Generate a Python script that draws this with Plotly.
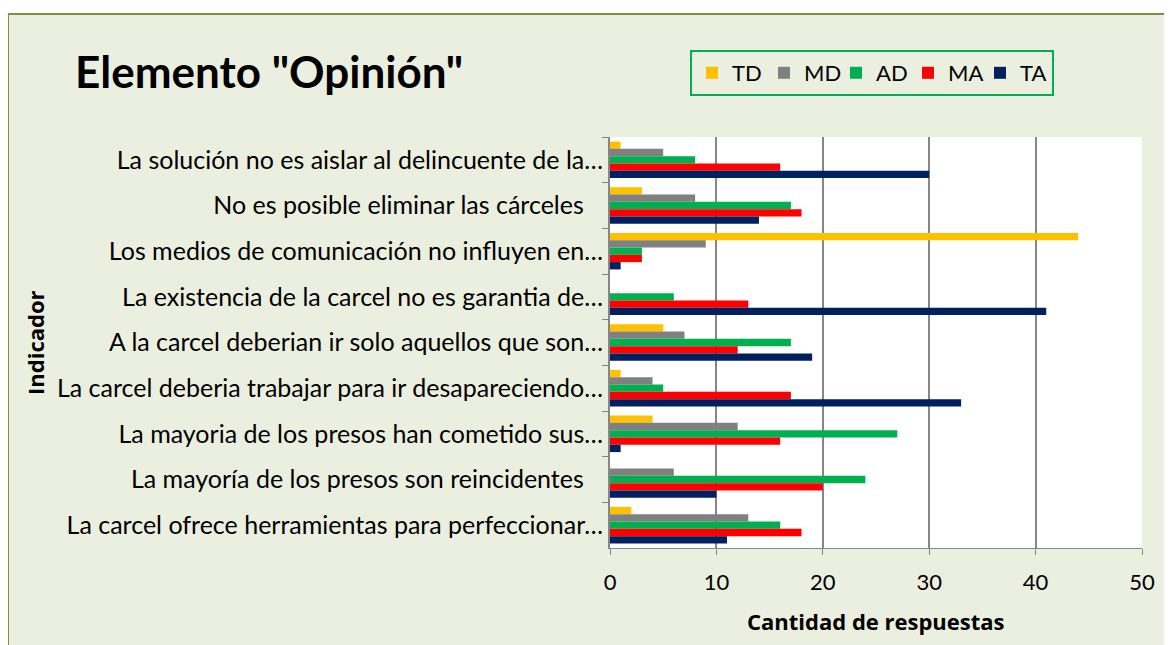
import plotly.graph_objects as go

# Data (top to bottom as shown in the chart)
indicadores = [
    "La solución no es aislar al delincuente de la…",
    "No es posible eliminar las cárceles\u00a0\u00a0\u00a0",
    "Los medios de comunicación no influyen en…",
    "La existencia de la carcel no es garantia de…",
    "A la carcel deberian ir solo aquellos que son…",
    "La carcel deberia trabajar para ir desapareciendo…",
    "La mayoria de los presos han cometido sus…",
    "La mayoría de los presos son reincidentes\u00a0\u00a0\u00a0",
    "La carcel ofrece herramientas para perfeccionar…",
]
td = [1, 3, 44, 0, 5, 1, 4, 0, 2]
md = [5, 8, 9, 0, 7, 4, 12, 6, 13]
ad = [8, 17, 3, 6, 17, 5, 27, 24, 16]
ma = [16, 18, 3, 13, 12, 17, 16, 20, 18]
ta = [30, 14, 1, 41, 19, 33, 1, 10, 11]

series = [("TD", td), ("MD", md), ("AD", ad), ("MA", ma), ("TA", ta)]
colors = {
    "TD": "#FFC000",
    "MD": "#808080",
    "AD": "#00B050",
    "MA": "#FF0000",
    "TA": "#002060",
}

FONT = "Lato, sans-serif"
BOLD_FONT = "Open Sans, sans-serif"
BG = "#EBEFDF"

fig = go.Figure()
for name, vals in series:
    fig.add_trace(go.Bar(
        y=indicadores,
        x=vals,
        name=name,
        orientation="h",
        marker_color=colors[name],
        marker_line_width=0,
    ))

# the page body adds 8px, so work in page coords minus 8
OFF = 8
W, H = 1172 - OFF, 645 - OFF
L, T = 610 - OFF, 137 - OFF
R = W - (1142 - OFF)
B = H - (548 - OFF)
pw, ph = W - L - R, H - T - B


def px(x):
    return (x - OFF - L) / pw


def py(y):
    return (H - B - (y - OFF)) / ph


fig.update_layout(
    width=W, height=H,
    margin=dict(l=L, r=R, t=T, b=B, autoexpand=False),
    paper_bgcolor=BG,
    plot_bgcolor="white",
    font=dict(family=FONT, size=25, color="black"),
    barmode="group",
    bargap=0.2,
    bargroupgap=0,
    showlegend=True,
    legend=dict(
        orientation="h",
        x=px(690), y=py(50), xanchor="left", yanchor="top",
        bgcolor=BG, bordercolor="#00B050", borderwidth=2,
        font=dict(size=22, family=FONT),
        itemwidth=30,
        entrywidth=27,
    ),
    shapes=[
        dict(type="rect", xref="paper", yref="paper", layer="below",
             x0=px(0), x1=px(1180), y0=py(14), y1=py(0),
             fillcolor="white", line_width=0),
        dict(type="rect", xref="paper", yref="paper",
             x0=px(8), x1=px(1180), y0=py(650), y1=py(14),
             line=dict(color="#77933C", width=2)),
    ],
    annotations=[
        dict(text="<b>Elemento \"Opinión\"</b>", xref="paper", yref="paper",
             x=px(73), y=py(71), xanchor="left", yanchor="middle",
             showarrow=False, font=dict(size=44, family=FONT)),
        dict(text="<b>Indicador</b>", xref="paper", yref="paper",
             x=px(35), y=py(343), xanchor="center", yanchor="middle",
             textangle=-90, showarrow=False, font=dict(size=22, family=BOLD_FONT)),
        dict(text="<b>Cantidad de respuestas</b>", xref="paper", yref="paper",
             x=px(876), y=py(621), xanchor="center", yanchor="middle",
             showarrow=False, font=dict(size=22, family=BOLD_FONT)),
    ],
)

fig.update_xaxes(
    range=[0, 50], dtick=10,
    showgrid=True, gridcolor="#868686", gridwidth=2,
    zeroline=False,
    showline=True, linecolor="#868686", linewidth=1,
    ticks="outside", ticklen=6, tickcolor="#868686",
    ticklabelstandoff=9,
    tickfont=dict(size=22),
)
fig.update_yaxes(
    autorange="reversed",
    showline=True, linecolor="#868686", linewidth=2,
    ticks="outside", tickson="boundaries", ticklen=6, tickcolor="#868686",
    tickfont=dict(size=25),
)

fig.write_html("out.html")
